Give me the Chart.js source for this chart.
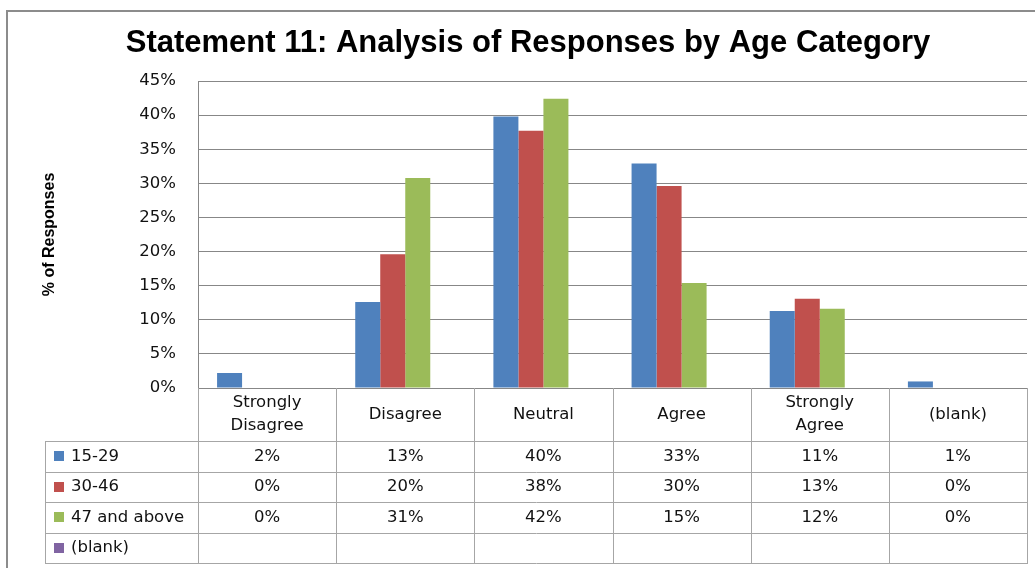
<!DOCTYPE html>
<html>
<head>
<meta charset="utf-8">
<title>Statement 11: Analysis of Responses by Age Category</title>
<script src="https://cdn.jsdelivr.net/npm/chart.js@4/dist/chart.umd.min.js"></script>
<style>
  html, body { margin: 0; padding: 0; background: #ffffff; }
  #wrap { position: relative; width: 1035px; height: 568px; }
  canvas { display: block; }
</style>
</head>
<body>
<div id="wrap"><canvas id="chart" width="1035" height="568"></canvas></div>
<script>
// Response categories (each entry holds the header lines shown in the data table)
const categories = [
  ['Strongly', 'Disagree'],
  ['Disagree'],
  ['Neutral'],
  ['Agree'],
  ['Strongly', 'Agree'],
  ['(blank)']
];

// Age groups
const seriesNames = ['15-29', '30-46', '47 and above', '(blank)'];
const seriesColors = ['#4F81BD', '#C0504D', '#9BBB59', '#8064A2'];

// Share of responses per age group (fractions)
const age15to29 = [0.022, 0.126, 0.398, 0.329, 0.113, 0.0096];
const age30to46 = [0.000, 0.196, 0.377, 0.296, 0.131, 0.000];
const age47plus = [0.000, 0.308, 0.424, 0.154, 0.116, 0.000];
const ageBlank  = [null, null, null, null, null, null];

// Y axis ticks
const yTicks = [0, 0.05, 0.10, 0.15, 0.20, 0.25, 0.30, 0.35, 0.40, 0.45];

const chartTitle = 'Statement 11: Analysis of Responses by Age Category';
const yTitle = '% of Responses';

const seriesData = [age15to29, age30to46, age47plus, ageBlank];
const pct = v => Math.round(v * 100) + '%';

const TEXT_FONT = 'DejaVu Sans';
const TEXT_SIZE = 16.5;
const LINE = '#a6a6a6';

// Frame, title and the data table underneath the plot
const decorations = {
  id: 'decorations',
  afterDraw(chart) {
    const ctx = chart.ctx;
    const x = chart.scales.x;
    const area = chart.chartArea;

    ctx.save();

    // frame (left and top edges)
    ctx.strokeStyle = '#8c8c8c';
    ctx.lineWidth = 2;
    ctx.beginPath();
    ctx.moveTo(7, 568);
    ctx.lineTo(7, 11);
    ctx.lineTo(1035, 11);
    ctx.stroke();

    // title
    ctx.fillStyle = '#000';
    ctx.font = 'bold 31px "Liberation Sans", Arial, sans-serif';
    ctx.textAlign = 'center';
    ctx.textBaseline = 'alphabetic';
    ctx.fillText(chartTitle, 528, 52);

    // table geometry
    const n = categories.length;
    const half = (x.getPixelForValue(1) - x.getPixelForValue(0)) / 2;
    const bounds = [];
    for (let i = 0; i < n; i++) bounds.push(x.getPixelForValue(i) - half);
    bounds.push(x.getPixelForValue(n - 1) + half);

    const top = area.bottom;
    const headerBottom = 441;
    const rowH = 30.5;
    const rows = seriesNames.length;
    const bottom = headerBottom + rows * rowH;
    const legendLeft = 45;

    ctx.strokeStyle = LINE;
    ctx.lineWidth = 1;
    ctx.beginPath();
    bounds.forEach(b => {
      const bx = Math.round(b) + 0.5;
      ctx.moveTo(bx, top);
      ctx.lineTo(bx, bottom);
    });
    ctx.moveTo(legendLeft + 0.5, headerBottom);
    ctx.lineTo(legendLeft + 0.5, bottom);
    for (let r = 0; r <= rows; r++) {
      const y = Math.round(headerBottom + r * rowH) + 0.5;
      ctx.moveTo(legendLeft, y);
      ctx.lineTo(Math.round(bounds[n]) + 1, y);
    }
    ctx.stroke();

    // header labels
    ctx.fillStyle = '#111';
    ctx.font = TEXT_SIZE + 'px "' + TEXT_FONT + '", sans-serif';
    ctx.textAlign = 'center';
    ctx.textBaseline = 'middle';
    const headerMid = (top + headerBottom) / 2;
    const lh = 23;
    categories.forEach((lines, i) => {
      const cx = x.getPixelForValue(i);
      const y0 = headerMid - (lines.length - 1) * lh / 2;
      lines.forEach((t, k) => ctx.fillText(t, cx, y0 + k * lh));
    });

    // legend column and values
    seriesNames.forEach((name, r) => {
      const cy = headerBottom + r * rowH + rowH / 2;
      ctx.fillStyle = seriesColors[r];
      ctx.fillRect(54, Math.round(cy - 5), 10, 10);
      ctx.fillStyle = '#111';
      ctx.textAlign = 'left';
      ctx.fillText(name, 71, cy);
      ctx.textAlign = 'center';
      seriesData[r].forEach((v, i) => {
        if (v === null) return;
        ctx.fillText(pct(v), x.getPixelForValue(i), cy);
      });
    });

    ctx.restore();
  }
};

new Chart(document.getElementById('chart'), {
  type: 'bar',
  data: {
    labels: categories.map(c => c.join(' ')),
    datasets: seriesNames.map((name, i) => ({
      label: name,
      data: seriesData[i],
      backgroundColor: seriesColors[i],
      borderWidth: 0,
      barPercentage: 1,
      categoryPercentage: 0.724
    }))
  },
  options: {
    responsive: false,
    devicePixelRatio: 1,
    animation: false,
    layout: { padding: { top: 81, bottom: 180, left: 0, right: 8 } },
    plugins: {
      legend: { display: false },
      title: { display: false },
      tooltip: { enabled: false }
    },
    scales: {
      x: { display: false },
      y: {
        min: 0,
        max: 0.45,
        afterBuildTicks: s => { s.ticks = yTicks.map(v => ({ value: v })); },
        afterFit: s => { s.width = 198; },
        ticks: {
          callback: v => pct(v),
          color: '#111',
          padding: 22,
          font: { family: TEXT_FONT, size: TEXT_SIZE }
        },
        grid: { color: '#878787', lineWidth: 1, drawTicks: false },
        border: { color: '#878787', width: 1 },
        title: {
          display: true,
          text: yTitle,
          color: '#000',
          font: { family: 'Liberation Sans', size: 16, weight: 'bold' },
          padding: { top: 40, bottom: 0 }
        }
      }
    }
  },
  plugins: [decorations]
});
</script>
</body>
</html>
